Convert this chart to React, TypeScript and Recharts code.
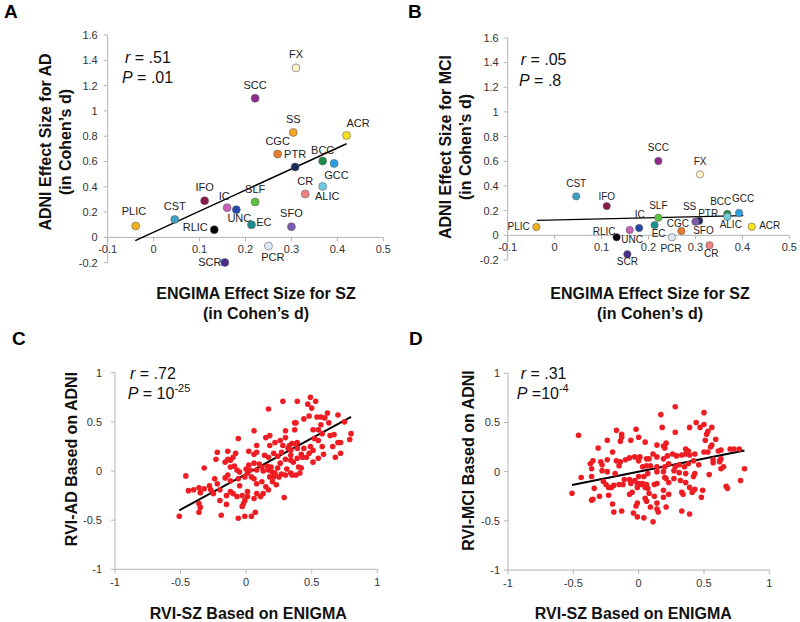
import React from 'react';
import { ScatterChart, Scatter, XAxis, YAxis, ReferenceLine } from 'recharts';

const FONT = '"Liberation Sans", Arial, Helvetica, sans-serif';
const AXIS = '#b3b3b3';

// ---------- Panels A & B : white-matter regions ----------
const regions = ['FX', 'SCC', 'SS', 'ACR', 'CGC', 'PTR', 'BCC', 'GCC', 'ALIC', 'CR', 'IFO', 'IC', 'UNC', 'SLF', 'PLIC', 'CST', 'RLIC', 'EC', 'SFO', 'PCR', 'SCR'];
const enigmaSzEffect = [0.31, 0.221, 0.304, 0.42, 0.27, 0.308, 0.368, 0.393, 0.368, 0.33, 0.111, 0.16, 0.18, 0.221, -0.039, 0.046, 0.132, 0.213, 0.3, 0.25, 0.155];
const adniAdEffect = [1.34, 1.1, 0.83, 0.806, 0.659, 0.556, 0.604, 0.585, 0.403, 0.343, 0.29, 0.235, 0.219, 0.28, 0.09, 0.142, 0.061, 0.1, 0.085, -0.068, -0.198];
const adniMciEffect = [0.494, 0.602, 0.118, 0.07, 0.035, 0.118, 0.173, 0.181, 0.151, -0.081, 0.237, 0.043, 0.059, 0.143, 0.067, 0.316, -0.016, 0.083, 0.11, -0.016, -0.154];

const regionTicksX = [-0.1, 0, 0.1, 0.2, 0.3, 0.4, 0.5];
const regionTicksY = [-0.2, 0, 0.2, 0.4, 0.6, 0.8, 1, 1.2, 1.4, 1.6];

const fitA = [{ x: -0.04, y: -0.025 }, { x: 0.42, y: 0.74 }];
const fitB = [{ x: -0.038, y: 0.121 }, { x: 0.402, y: 0.159 }];

// ---------- Panels C & D : RVI ----------
const rviSzC = [0.49, 0.53, 0.39, 0.28, 0.47, 0.5, 0.17, 0.7, 0.62, 0.6, 0.57, 0.54, 0.48, 0.44, 0.37, 0.38, 0.75, 0.57, 0.63, 0.55, 0.51, 0.67, 0.8, 0.79, 0.7, 0.58, 0.64, 0.52, 0.55, 0.3, 0.37, 0.18, 0.3, 0.26, 0.06, -0.06, 0.15, 0.39, 0.08, 0.22, 0.72, 0.49, 0.58, 0.38, 0.18, 0.28, 0.33, 0.35, 0.32, 0.34, 0.39, 0.42, 0.44, 0.46, 0.66, 0.68, 0.72, 0.59, 0.43, 0.39, 0.34, 0.3, 0.27, 0.24, 0.21, 0.17, 0.14, 0.08, 0.06, 0.02, -0.08, -0.1, -0.14, -0.14, -0.22, -0.23, -0.32, -0.16, -0.12, -0.09, -0.12, -0.07, -0.05, 0, 0.02, 0.03, 0.06, 0.08, 0.1, 0.12, 0.13, 0.16, 0.19, 0.2, 0.24, 0.27, 0.21, 0.18, 0.3, 0.34, 0.36, 0.4, 0.42, 0.51, 0.55, -0.46, -0.24, -0.16, -0.14, -0.01, 0.01, 0.04, 0.25, 0.35, 0.38, 0.41, -0.44, -0.4, -0.36, -0.35, -0.32, -0.28, -0.27, -0.22, -0.2, -0.12, -0.15, -0.25, -0.12, -0.1, -0.05, -0.03, 0.01, 0.06, 0.08, 0.12, 0.15, 0.17, 0.13, 0.2, 0.23, -0.06, -0.36, -0.35, -0.36, -0.2, -0.19, -0.15, -0.07, -0.02, 0.01, 0.06, 0.29, -0.51, -0.06, -0.01, 0.04, 0.07, -0.03, -0.01, 0.08, 0.11, 0.17, 0.22, 0.26, 0.31, 0.34, 0.48, 0.51];
const rviAdC = [0.75, 0.71, 0.71, 0.71, 0.68, 0.64, 0.63, 0.57, 0.59, 0.54, 0.55, 0.55, 0.56, 0.53, 0.49, 0.49, 0.5, 0.47, 0.49, 0.42, 0.42, 0.37, 0.38, 0.32, 0.29, 0.38, 0.36, 0.33, 0.31, 0.41, 0.42, 0.36, 0.34, 0.31, 0.41, 0.33, 0.34, 0.29, 0.26, 0.29, 0.29, 0.25, 0.25, 0.28, 0.26, 0.26, 0.26, 0.28, 0.23, 0.21, 0.23, 0.17, 0.23, 0.14, 0.25, 0.14, 0.18, 0.17, 0.14, 0.13, 0.16, 0.12, 0.19, 0.15, 0.18, 0.14, 0.16, 0.19, 0.17, 0.2, 0.18, 0.14, 0.12, 0.2, 0.19, 0.12, 0.03, 0.09, 0.11, 0.05, 0.04, 0.01, -0.01, 0.02, 0.06, 0.01, 0.08, 0.01, 0.07, 0.04, 0, 0.05, 0.04, -0.01, 0.03, -0.03, -0.06, -0.06, -0.04, -0.02, 0.09, 0.04, 0.03, 0.09, 0.13, -0.05, -0.08, -0.07, -0.04, -0.06, -0.02, -0.06, -0.06, -0.04, -0.04, -0.02, -0.2, -0.19, -0.17, -0.22, -0.18, -0.15, -0.19, -0.13, -0.19, -0.1, -0.25, -0.23, -0.21, -0.23, -0.15, -0.25, -0.21, -0.08, -0.13, -0.11, -0.16, -0.19, -0.23, -0.11, -0.14, -0.08, -0.33, -0.37, -0.42, -0.3, -0.45, -0.34, -0.26, -0.33, -0.26, -0.28, -0.27, -0.46, -0.48, -0.46, -0.46, -0.42, -0.36, -0.3, -0.23, -0.26, 0.01, -0.02, 0.08, 0.02, 0.11, 0.18, 0.21];

const rviSzD = [0.28, 0.5, 0.17, 0.44, 0.5, 0.56, 0.47, 0.53, 0.52, 0.39, 0.18, 0.28, -0.02, -0.17, -0.46, -0.24, -0.31, -0.13, -0.14, -0.13, -0.06, 0, 0.05, 0.21, 0.19, 0.2, 0.14, 0.36, 0.38, 0.51, 0.59, 0.56, 0.55, 0.53, 0.5, 0.43, 0.39, 0.36, 0.33, 0.29, 0.26, 0.22, 0.19, 0.14, 0.11, 0.08, 0.06, 0.01, -0.03, -0.07, -0.1, -0.14, -0.17, -0.2, -0.24, -0.29, -0.35, -0.37, -0.28, -0.15, 0, 0.06, 0.03, 0.09, 0.14, 0.2, 0.23, 0.28, 0.31, 0.35, 0.38, 0.42, 0.46, 0.57, 0.62, 0.63, 0.7, 0.77, 0.73, 0.57, 0.61, -0.44, -0.36, -0.34, -0.35, -0.36, -0.27, -0.25, -0.23, -0.21, -0.19, -0.15, -0.12, -0.05, -0.01, 0.01, 0.02, 0.03, 0.05, 0.07, 0.08, 0.12, 0.14, 0.2, 0.21, 0.23, 0.27, 0.32, 0.36, 0.39, 0.42, 0.43, 0.36, 0.31, 0.27, 0.19, 0.14, 0.07, 0.04, 0, -0.03, -0.06, -0.07, -0.11, -0.18, -0.24, -0.28, -0.36, -0.51, -0.3, -0.23, -0.2, -0.19, -0.07, -0.02, -0.01, 0.05, 0.06, 0.09, 0.14, 0.15, 0.12, 0.19, 0.23, 0.33, 0.34, 0.41, 0.43, 0.48, 0.49, 0.54, 0.63, 0.67, 0.68, 0.81, 0.78, -0.01, 0.04, 0.11, -0.04, -0.13, 0.33, 0.39, 0.21, 0.14, 0.19, 0.62, 0.65, 0.63, -0.01, 0.06];
const rviMciD = [0.66, 0.6, 0.58, 0.5, 0.48, 0.45, 0.45, 0.41, 0.38, 0.45, 0.45, 0.4, 0.43, 0.42, 0.37, 0.32, 0.24, 0.38, 0.31, 0.35, 0.32, 0.35, 0.3, 0.29, 0.26, 0.24, 0.27, 0.23, 0.21, 0.32, 0.33, 0.27, 0.25, 0.2, 0.2, 0.18, 0.17, 0.18, 0.17, 0.16, 0.18, 0.16, 0.13, 0.15, 0.18, 0.13, 0.13, 0.15, 0.15, 0.14, 0.12, 0.1, 0.11, 0.2, 0.12, 0.1, 0.11, 0.08, 0.07, 0.06, 0.11, 0.06, 0.05, 0.06, 0.05, 0.05, 0.08, 0.05, 0.07, 0.05, 0.08, 0.11, 0.07, 0.09, 0.1, 0.13, 0.23, 0.23, 0.23, 0.12, 0.21, -0.06, -0.05, -0.17, -0.28, -0.29, -0.1, -0.13, -0.16, -0.16, -0.14, -0.13, -0.13, -0.21, -0.12, -0.12, -0.13, -0.12, -0.16, -0.17, -0.22, -0.13, -0.12, -0.06, -0.07, -0.11, -0.07, -0.09, -0.11, -0.16, -0.05, -0.02, -0.02, -0.01, 0.01, 0, 0, -0.02, -0.05, -0.05, -0.09, -0.12, -0.08, -0.08, -0.02, 0, 0.01, 0.03, -0.22, -0.25, -0.24, -0.33, -0.41, -0.23, -0.35, -0.32, -0.27, -0.3, -0.36, -0.38, -0.41, -0.25, -0.19, -0.23, -0.21, -0.23, -0.21, -0.18, -0.26, -0.19, -0.03, 0.03, -0.15, -0.17, 0.03, -0.09, -0.46, -0.47, -0.51, -0.42, -0.4, -0.4, -0.43, -0.36, -0.32, -0.26, 0.11, 0.05, 0.22, -0.16, -0.13];

const rviTicks = [-1, -0.5, 0, 0.5, 1];
const fitC = [{ x: -0.51, y: -0.4 }, { x: 0.8, y: 0.55 }];
const fitD = [{ x: -0.51, y: -0.135 }, { x: 0.81, y: 0.215 }];

// ---------- styles ----------
const REGION_COLORS: Record<string, string> = {
  FX: '#fdf0c6', SCC: '#8e2a8e', SS: '#f5a623', ACR: '#f6e11a', CGC: '#e97b2b', PTR: '#1b2a57',
  BCC: '#1e8a4a', GCC: '#2aa0e0', ALIC: '#6ccbe0', CR: '#f07f7f', IFO: '#8a1a48', IC: '#c65fb9',
  UNC: '#2548a8', SLF: '#5fc03f', PLIC: '#f2b21d', CST: '#3aa0c2', RLIC: '#000000', EC: '#178f8f',
  SFO: '#7b5bb0', PCR: '#dde8f5', SCR: '#4b2a8c',
};

const labelOffsetsA: Record<string, [number, number]> = {
  FX: [0, -13.5], SCC: [0, -13.3], SS: [0, -13.6], ACR: [11.5, -12.4], CGC: [0, -12.6], PTR: [0, -13],
  BCC: [0, -11.3], GCC: [2.4, 11.3], ALIC: [4.6, 10], CR: [0, -12.6], IFO: [0, -13.3], IC: [-3, -11.3],
  UNC: [3, 8.3], SLF: [0, -13], PLIC: [-1.7, -15.3], CST: [0, -13], RLIC: [-19, -2.7], EC: [12.3, -2.3],
  SFO: [0, -13.7], PCR: [4.4, 11], SCR: [-15, 0],
};
const labelOffsetsB: Record<string, [number, number]> = {
  FX: [0, -12.6], SCC: [0, -13.7], SS: [-7.7, -14.2], ACR: [18, -0.7], CGC: [-3.4, -7.5], PTR: [9, -7.5],
  BCC: [-6.6, -12], GCC: [4, -14.4], ALIC: [3.4, 7.6], CR: [1.7, 8.5], IFO: [0, -9.3], IC: [10, -15.5],
  UNC: [-7, 11.2], SLF: [0, -12.5], PLIC: [-17.7, -1], CST: [0, -13], RLIC: [-12.4, -6], EC: [4, 8.5],
  SFO: [8, 8.3], PCR: [-1, 11.5], SCR: [0, 7.5],
};

const X_AXIS_H = 30;

function makeRegionShape(offsets: Record<string, [number, number]>, r: number, fs: number) {
  return (props: any) => {
    const { cx, cy, payload } = props;
    const [dx, dy] = offsets[payload.name] ?? [0, -13];
    return (
      <g>
        <circle cx={cx} cy={cy} r={r} fill={REGION_COLORS[payload.name]} stroke="#666" strokeWidth={0.6} />
        <text x={cx + dx} y={cy + dy} dy="0.35em" textAnchor="middle" fontSize={fs} fill="#222" fontFamily={FONT}>
          {payload.name}
        </text>
      </g>
    );
  };
}

function LiftedTick(props: any) {
  const { x, y, payload, lift } = props;
  const yy = y - lift;
  return (
    <g>
      <line x1={x} x2={x} y1={yy} y2={yy + 4} stroke={AXIS} />
      <text x={x} y={yy + 16} textAnchor="middle" fontSize={11} fill="#333" fontFamily={FONT}>
        {payload.value}
      </text>
    </g>
  );
}

function RegionPanel(p: any) {
  const { left, top, width, height, margin, yValues, fit, offsets, dotR, labelSize, fitWidth, yTickMargin } = p;
  const data = regions.map((name, i) => ({ name, x: enigmaSzEffect[i], y: yValues[i] }));
  const plotH = height - margin.top - margin.bottom - X_AXIS_H;
  const lift = (plotH * (0 - -0.2)) / (1.6 - -0.2);
  return (
    <div style={{ position: 'absolute', left, top }}>
      <ScatterChart width={width} height={height} margin={margin}>
        <XAxis
          type="number" dataKey="x" domain={[-0.1, 0.5]} ticks={regionTicksX} interval={0}
          axisLine={false} tickLine={false} tickSize={0} tickMargin={0} height={X_AXIS_H}
          tick={(tp: any) => <LiftedTick {...tp} lift={lift} />}
        />
        <YAxis
          type="number" dataKey="y" domain={[-0.2, 1.6]} ticks={regionTicksY} interval={0} width={40}
          axisLine={{ stroke: AXIS }} tickLine={{ stroke: AXIS }} tickSize={4} tickMargin={yTickMargin}
          tick={{ fontSize: 11, fill: '#333', fontFamily: FONT }}
        />
        <ReferenceLine y={0} stroke={AXIS} strokeWidth={1} />
        <ReferenceLine segment={fit} stroke="#000" strokeWidth={fitWidth} />
        <Scatter data={data} isAnimationActive={false} shape={makeRegionShape(offsets, dotR, labelSize)} />
      </ScatterChart>
    </div>
  );
}

const RedDot = (props: any) => <circle cx={props.cx} cy={props.cy} r={2.8} fill="#ee1d23" />;

function RviPanel(p: any) {
  const { left, top, width, height, margin, xs, ys, fit, yTickMargin } = p;
  const data = xs.map((x: number, i: number) => ({ x, y: ys[i] }));
  return (
    <div style={{ position: 'absolute', left, top }}>
      <ScatterChart width={width} height={height} margin={margin}>
        <XAxis
          type="number" dataKey="x" domain={[-1, 1]} ticks={rviTicks} interval={0} height={X_AXIS_H}
          axisLine={{ stroke: AXIS }} tickLine={{ stroke: AXIS }} tickSize={4} tickMargin={5}
          tick={{ fontSize: 11, fill: '#333', fontFamily: FONT }}
        />
        <YAxis
          type="number" dataKey="y" domain={[-1, 1]} ticks={rviTicks} interval={0} width={40}
          axisLine={{ stroke: AXIS }} tickLine={{ stroke: AXIS }} tickSize={4} tickMargin={yTickMargin}
          tick={{ fontSize: 11, fill: '#333', fontFamily: FONT }}
        />
        <Scatter data={data} isAnimationActive={false} shape={RedDot} />
        <ReferenceLine segment={fit} stroke="#000" strokeWidth={2} />
      </ScatterChart>
    </div>
  );
}

function Stat({ x, y, sym, rest, sup }: any) {
  return (
    <text x={x} y={y} fontSize={16} fill="#111" fontFamily={FONT}>
      <tspan fontStyle="italic">{sym}</tspan>
      {rest}
      {sup ? <tspan fontSize={11} dy={-7}>{sup}</tspan> : null}
    </text>
  );
}

function YTitle({ x, y, text }: any) {
  return (
    <text transform={`translate(${x},${y}) rotate(-90)`} textAnchor="middle" fontSize={16} fontWeight="bold" fill="#111" fontFamily={FONT}>
      {text}
    </text>
  );
}

function XTitle({ x, y, text }: any) {
  return (
    <text x={x} y={y} textAnchor="middle" fontSize={16} fontWeight="bold" fill="#111" fontFamily={FONT}>
      {text}
    </text>
  );
}

export default function App() {
  return (
    <div style={{ position: 'absolute', left: 0, top: 0, width: 800, height: 622, background: '#fff', overflow: 'hidden' }}>
      <RegionPanel
        left={0} top={0} width={400} height={330}
        margin={{ top: 35, right: 16.7, left: 67.7, bottom: 37.3 }}
        yValues={adniAdEffect} fit={fitA} offsets={labelOffsetsA} dotR={4} labelSize={11} fitWidth={1.5} yTickMargin={6}
      />
      <RegionPanel
        left={400} top={0} width={400} height={330}
        margin={{ top: 37.9, right: 10.7, left: 67.7, bottom: 40 }}
        yValues={adniMciEffect} fit={fitB} offsets={labelOffsetsB} dotR={3.7} labelSize={10} fitWidth={1.3} yTickMargin={5}
      />
      <RviPanel
        left={0} top={330} width={400} height={292}
        margin={{ top: 42.7, right: 22.7, left: 75, bottom: 22.7 }}
        xs={rviSzC} ys={rviAdC} fit={fitC} yTickMargin={9}
      />
      <RviPanel
        left={400} top={330} width={400} height={292}
        margin={{ top: 43.3, right: 30.7, left: 68, bottom: 22 }}
        xs={rviSzD} ys={rviMciD} fit={fitD} yTickMargin={4}
      />
      <svg width={800} height={622} style={{ position: 'absolute', left: 0, top: 0, pointerEvents: 'none' }}>
        <text x={4} y={18} fontSize={19} fontWeight="bold" fill="#000" fontFamily={FONT}>A</text>
        <text x={408} y={18} fontSize={19} fontWeight="bold" fill="#000" fontFamily={FONT}>B</text>
        <text x={12} y={345} fontSize={19} fontWeight="bold" fill="#000" fontFamily={FONT}>C</text>
        <text x={409} y={345} fontSize={19} fontWeight="bold" fill="#000" fontFamily={FONT}>D</text>

        <Stat x={125} y={63} sym="r" rest=" = .51" />
        <Stat x={122} y={83} sym="P" rest=" = .01" />
        <Stat x={520.7} y={65} sym="r" rest=" = .05" />
        <Stat x={519} y={85.5} sym="P" rest=" = .8" />
        <Stat x={130} y={379} sym="r" rest=" = .72" />
        <Stat x={127.7} y={399} sym="P" rest=" = 10" sup="-25" />
        <Stat x={520.7} y={378.5} sym="r" rest=" = .31" />
        <Stat x={516.7} y={399} sym="P" rest=" =10" sup="-4" />

        <YTitle x={50.7} y={142} text="ADNI Effect Size for AD" />
        <YTitle x={70.7} y={142} text="(in Cohen’s d)" />
        <XTitle x={256} y={299} text="ENGIMA Effect Size for SZ" />
        <XTitle x={256} y={319} text="(in Cohen’s d)" />

        <YTitle x={450.7} y={147} text="ADNI Effect Size for MCI" />
        <YTitle x={470.7} y={147} text="(in Cohen’s d)" />
        <XTitle x={650} y={299} text="ENGIMA Effect Size for SZ" />
        <XTitle x={650} y={319} text="(in Cohen’s d)" />

        <YTitle x={77.4} y={459} text="RVI-AD Based on ADNI" />
        <XTitle x={248.3} y={619} text="RVI-SZ Based on ENIGMA" />
        <YTitle x={474} y={460.5} text="RVI-MCI Based on ADNI" />
        <XTitle x={633.3} y={619} text="RVI-SZ Based on ENIGMA" />
      </svg>
    </div>
  );
}
